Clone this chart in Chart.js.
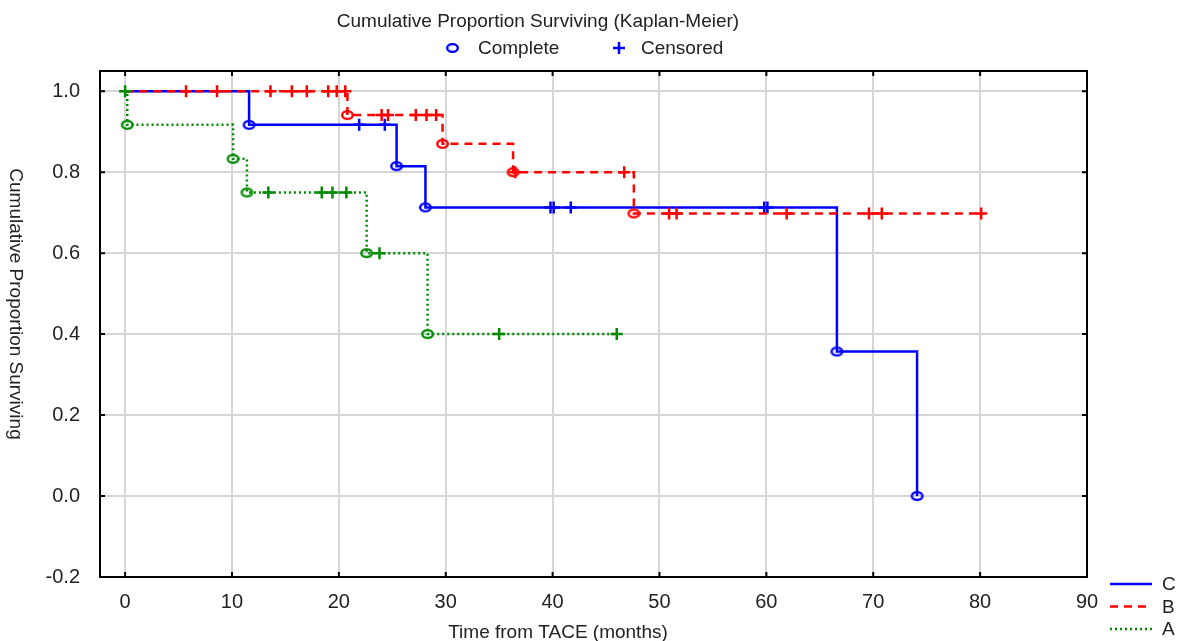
<!DOCTYPE html>
<html>
<head>
<meta charset="utf-8">
<script src="https://cdn.jsdelivr.net/npm/chart.js@4.4.0/dist/chart.umd.min.js"></script>
<style>
    html, body { margin: 0; padding: 0; background: #fff; }
</style>
</head>
<body>
<canvas id="km" width="1177" height="641"></canvas>
<script>
// Group C (solid blue)
const eventTimesC = [11.6, 25.4, 28.1, 66.6, 74.1];
const survivalC = [0.917, 0.815, 0.713, 0.357, 0.0];
const censoredC = [21.9, 24.3, 39.8, 40.1, 41.7, 59.8, 60.1];

// Group B (dashed red)
const eventTimesB = [20.8, 29.7, 36.3, 47.6];
const survivalB = [0.941, 0.870, 0.800, 0.698];
const censoredB = [5.7, 8.6, 13.6, 15.6, 17.0, 19.0, 19.8, 20.6, 24.0, 24.6, 27.2, 28.2, 29.1,
    36.5, 46.7, 50.9, 51.6, 61.9, 69.6, 70.8, 80.1];

// Group A (dotted green)
const eventTimesA = [0.2, 10.1, 11.4, 22.6, 28.3];
const survivalA = [0.917, 0.833, 0.750, 0.600, 0.400];
const censoredA = [0.0, 13.4, 18.4, 19.4, 20.7, 23.8, 35.0, 46.0];

// Axis ticks
const xTicks = [0, 10, 20, 30, 40, 50, 60, 70, 80, 90];
const yTicks = [-0.2, 0.0, 0.2, 0.4, 0.6, 0.8, 1.0];

const FONT = '"Liberation Sans", Arial, sans-serif';
const TEXT = '#222';
const BLUE = '#0000ff', RED = '#ff0000', GREEN = '#008a00';

// Survival value at time t (step function)
function survAt(times, surv, t) {
    let s = 1;
    times.forEach((time, i) => { if (time <= t) s = surv[i]; });
    return s;
}

function stepPoints(times, surv, censored) {
    const pts = [{ x: 0, y: 1 }];
    times.forEach((t, i) => pts.push({ x: t, y: surv[i] }));
    const lastC = Math.max(...censored);
    const lastE = Math.max(...times);
    if (lastC > lastE) pts.push({ x: lastC, y: survAt(times, surv, lastC) });
    return pts;
}

// Open ellipse marker
function ellipseMarker(color) {
    const c = document.createElement('canvas');
    c.width = 15; c.height = 12;
    const g = c.getContext('2d');
    g.strokeStyle = color;
    g.lineWidth = 2.4;
    g.beginPath();
    g.ellipse(7.5, 6, 5.3, 3.9, 0, 0, Math.PI * 2);
    g.stroke();
    return c;
}

function groupDatasets(times, surv, censored, color, dash) {
    return [
        {
            data: stepPoints(times, surv, censored),
            showLine: true,
            stepped: 'before',
            borderColor: color,
            borderWidth: 2.5,
            borderDash: dash,
            pointRadius: 0
        },
        {
            data: times.map((t, i) => ({ x: t, y: surv[i] })),
            pointStyle: ellipseMarker(color),
            pointRadius: 5
        },
        {
            data: censored.map(t => ({ x: t, y: survAt(times, surv, t) })),
            pointStyle: 'cross',
            pointRadius: 6,
            borderColor: color,
            borderWidth: 2.5
        }
    ];
}

// Box, inner tick marks, titles and legends
const decor = {
    id: 'decor',
    beforeDatasetsDraw(chart) {
        const { ctx, chartArea: a, scales: { x, y } } = chart;
        ctx.save();
        ctx.strokeStyle = '#000';
        ctx.lineWidth = 2;
        ctx.strokeRect(a.left, a.top, a.right - a.left, a.bottom - a.top);
        ctx.beginPath();
        xTicks.forEach(v => {
            const px = x.getPixelForValue(v);
            ctx.moveTo(px, a.bottom); ctx.lineTo(px, a.bottom - 5);
            ctx.moveTo(px, a.top); ctx.lineTo(px, a.top + 5);
        });
        yTicks.forEach(v => {
            const py = y.getPixelForValue(v);
            ctx.moveTo(a.left, py); ctx.lineTo(a.left + 5, py);
            ctx.moveTo(a.right, py); ctx.lineTo(a.right - 5, py);
        });
        ctx.stroke();
        ctx.restore();
    },
    afterDraw(chart) {
        const { ctx } = chart;
        ctx.save();
        ctx.fillStyle = TEXT;
        ctx.font = '19px ' + FONT;
        ctx.textBaseline = 'middle';

        // top title and marker legend
        ctx.textAlign = 'center';
        ctx.fillText('Cumulative Proportion Surviving (Kaplan-Meier)', 538, 22);
        ctx.textAlign = 'left';
        ctx.drawImage(ellipseMarker(BLUE), 445, 42);
        ctx.fillText('Complete', 478, 49);
        ctx.strokeStyle = BLUE;
        ctx.lineWidth = 2.5;
        ctx.beginPath();
        ctx.moveTo(613, 48); ctx.lineTo(625, 48);
        ctx.moveTo(619, 42); ctx.lineTo(619, 54);
        ctx.stroke();
        ctx.fillText('Censored', 641, 49);

        // x axis title
        ctx.textAlign = 'center';
        ctx.fillText('Time from TACE (months)', 558, 633);

        // y axis title, reading downwards
        ctx.save();
        ctx.translate(15, 304);
        ctx.rotate(Math.PI / 2);
        ctx.fillText('Cumulative Proportion Surviving', 0, 0);
        ctx.restore();

        // group legend
        const items = [['C', BLUE, []], ['B', RED, [8, 6]], ['A', GREEN, [2, 3]]];
        ctx.textAlign = 'left';
        items.forEach(([label, color, dash], i) => {
            const ly = 584 + i * 22.5;
            ctx.strokeStyle = color;
            ctx.lineWidth = 2.5;
            ctx.setLineDash(dash);
            ctx.beginPath();
            ctx.moveTo(1110, ly); ctx.lineTo(1152, ly);
            ctx.stroke();
            ctx.setLineDash([]);
            ctx.fillText(label, 1162, ly + 1);
        });
        ctx.restore();
    }
};

new Chart(document.getElementById('km'), {
    type: 'scatter',
    data: {
        datasets: [
            ...groupDatasets(eventTimesA, survivalA, censoredA, GREEN, [2, 3]),
            ...groupDatasets(eventTimesB, survivalB, censoredB, RED, [8, 6]),
            ...groupDatasets(eventTimesC, survivalC, censoredC, BLUE, [])
        ]
    },
    options: {
        responsive: false,
        animation: false,
        devicePixelRatio: 1,
        layout: { padding: { left: 0, top: 71, right: 90, bottom: 0 } },
        plugins: {
            legend: { display: false },
            tooltip: { enabled: false }
        },
        scales: {
            x: {
                type: 'linear',
                min: -2.35,
                max: 90,
                afterBuildTicks: s => { s.ticks = xTicks.map(v => ({ value: v })); },
                afterFit: s => { s.height = 64; },
                ticks: {
                    font: { size: 20, family: FONT },
                    color: TEXT,
                    padding: 13,
                    maxRotation: 0,
                    autoSkip: false
                },
                grid: { color: '#d6d6d6', lineWidth: 2, drawTicks: false },
                border: { display: false }
            },
            y: {
                min: -0.2,
                max: 1.05,
                afterBuildTicks: s => { s.ticks = yTicks.map(v => ({ value: v })); },
                afterFit: s => { s.width = 100; },
                ticks: {
                    font: { size: 20, family: FONT },
                    color: TEXT,
                    padding: 20,
                    callback: v => v.toFixed(1)
                },
                grid: { color: '#d6d6d6', lineWidth: 2, drawTicks: false },
                border: { display: false }
            }
        }
    },
    plugins: [decor]
});
</script>
</body>
</html>
